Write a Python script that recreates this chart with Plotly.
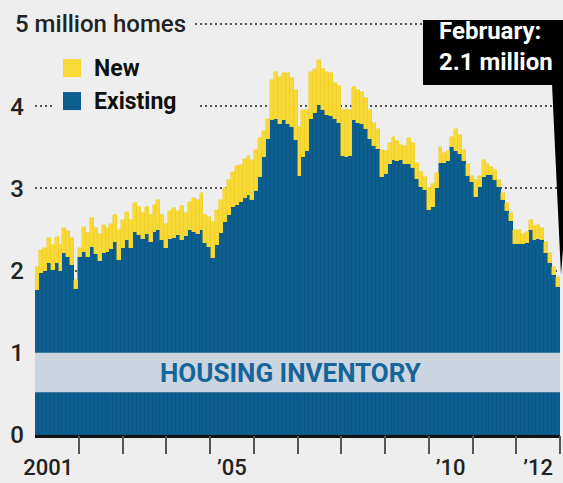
import plotly.graph_objects as go

# Monthly data, Jan 2001 - Feb 2012 (millions of homes)
months = [f"{y}-{m:02d}" for y in range(2001, 2013) for m in range(1, 13)][:134]

existing = [1.76, 1.97, 1.99, 2.09, 2.01, 2.09, 1.99, 2.21, 2.17, 2.07, 1.78, 2.17,
            2.23, 2.17, 2.29, 2.20, 2.12, 2.22, 2.23, 2.26, 2.35, 2.13, 2.28, 2.37,
            2.28, 2.47, 2.43, 2.39, 2.45, 2.35, 2.47, 2.50, 2.37, 2.27, 2.39, 2.40,
            2.43, 2.37, 2.42, 2.49, 2.47, 2.45, 2.50, 2.34, 2.29, 2.15, 2.31, 2.46,
            2.59, 2.68, 2.78, 2.80, 2.83, 2.88, 2.92, 2.86, 2.97, 3.14, 3.38, 3.60,
            3.83, 3.85, 3.78, 3.83, 3.79, 3.75, 3.59, 3.15, 3.38, 3.45, 3.85, 3.92,
            4.02, 3.95, 3.90, 3.88, 3.85, 3.80, 3.40, 3.38, 3.40, 3.83, 3.80, 3.78,
            3.72, 3.60, 3.52, 3.48, 3.14, 3.18, 3.30, 3.35, 3.33, 3.35, 3.30, 3.30,
            3.25, 3.12, 3.02, 2.98, 2.74, 2.78, 3.00, 3.31, 3.31, 3.33, 3.50, 3.45,
            3.42, 3.33, 3.15, 3.08, 2.90, 3.02, 3.14, 3.16, 3.16, 3.10, 3.02, 2.86,
            2.72, 2.60, 2.33, 2.33, 2.32, 2.34, 2.49, 2.37, 2.38, 2.37, 2.22, 2.09,
            1.95, 1.80]

new = [0.28, 0.28, 0.28, 0.31, 0.30, 0.32, 0.32, 0.31, 0.31, 0.33, 0.11, 0.10,
       0.30, 0.29, 0.35, 0.32, 0.33, 0.33, 0.29, 0.31, 0.33, 0.37, 0.34, 0.34,
       0.34, 0.35, 0.34, 0.31, 0.33, 0.33, 0.33, 0.36, 0.31, 0.30, 0.34, 0.36,
       0.30, 0.42, 0.28, 0.35, 0.41, 0.41, 0.44, 0.34, 0.36, 0.44, 0.43, 0.40,
       0.41, 0.42, 0.42, 0.47, 0.45, 0.48, 0.48, 0.49, 0.50, 0.48, 0.32, 0.25,
       0.49, 0.57, 0.58, 0.57, 0.61, 0.60, 0.61, 0.60, 0.57, 0.50, 0.57, 0.53,
       0.54, 0.50, 0.52, 0.52, 0.43, 0.45, 0.55, 0.59, 0.55, 0.40, 0.40, 0.39,
       0.38, 0.35, 0.28, 0.24, 0.33, 0.27, 0.25, 0.28, 0.25, 0.18, 0.22, 0.32,
       0.30, 0.19, 0.18, 0.16, 0.26, 0.27, 0.19, 0.19, 0.12, 0.12, 0.13, 0.27,
       0.23, 0.14, 0.15, 0.07, 0.20, 0.13, 0.21, 0.14, 0.10, 0.12, 0.08, 0.09,
       0.10, 0.10, 0.16, 0.16, 0.13, 0.13, 0.13, 0.17, 0.18, 0.15, 0.13, 0.13,
       0.10, 0.12]

y_ticks = [0, 1, 2, 3, 4, 5]
y_ticktext = ["0", "1", "2", "3", "4", ""]
year_ticks = list(range(2002, 2014))
year_label_pos = [2001.3, 2005.5, 2010.5, 2012.5]
year_labels = ["2001", "\u201905", "\u201910", "\u201912"]

BLUE = "#0C5E8E"
YELLOW = "#F9D935"
BG = "#EEEEEE"
FONT = "Roboto"

fig = go.Figure()
fig.add_bar(x=months, y=existing, name="Existing",
            marker=dict(color=BLUE, line=dict(color="#0A5482", width=0.5)))
fig.add_bar(x=months, y=new, name="New",
            marker=dict(color=YELLOW, line=dict(color="#EDCD28", width=0.5)))
fig.add_scatter(x=[2001, 2013], y=[0, 0], xaxis="x2", mode="markers",
                marker=dict(opacity=0), hoverinfo="skip", showlegend=False)

fig.update_layout(
    width=563, height=483,
    margin=dict(l=35, r=3, t=20, b=48),
    paper_bgcolor=BG, plot_bgcolor=BG,
    barmode="stack", bargap=0, showlegend=False,
    font=dict(family=FONT, color="#222"),
    xaxis=dict(type="category", range=[-0.5, 133.5], showticklabels=False,
               ticks="", showgrid=False, zeroline=False, automargin=False,
               showline=True, linecolor="#111", linewidth=2.5),
    xaxis2=dict(overlaying="x", anchor="y", side="bottom", automargin=False,
                range=[2001, 2013], tickmode="array",
                tickvals=year_label_pos, ticktext=year_labels,
                ticks="outside", ticklen=13, tickcolor="rgba(0,0,0,0)",
                tickfont=dict(family=FONT, size=22, color="#222", weight=500),
                showgrid=False, zeroline=False, showline=False,
                minor=dict(tickmode="array", tickvals=year_ticks, ticks="outside",
                           ticklen=18, tickcolor="#555", tickwidth=1.5, showgrid=False)),
    yaxis=dict(range=[0, 5.05], tickmode="array", tickvals=y_ticks, ticktext=y_ticktext,
               tickfont=dict(family=FONT, size=24, color="#222", weight=500),
               ticks="", ticklabelstandoff=10, automargin=False,
               showgrid=True, gridcolor="#555", gridwidth=1.5, griddash="2px,3px",
               zeroline=False, showline=False),
)

shapes = [
    # housing inventory band
    dict(type="rect", xref="paper", yref="y", x0=0, x1=1, y0=0.52, y1=1.0,
         fillcolor="#CAD5DF", line=dict(width=0), layer="above"),
    # legend mask over grid line
    dict(type="rect", xref="paper", yref="y", x0=0.038, x1=0.3105, y0=3.88, y1=4.12,
         fillcolor=BG, line=dict(width=0), layer="above"),
    # legend swatches
    dict(type="rect", xref="paper", yref="y", x0=0.0533, x1=0.0876, y0=4.355, y1=4.574,
         fillcolor=YELLOW, line=dict(width=0), layer="above"),
    dict(type="rect", xref="paper", yref="y", x0=0.0533, x1=0.0876, y0=3.954, y1=4.173,
         fillcolor=BLUE, line=dict(width=0), layer="above"),
    # callout box
    dict(type="rect", xref="paper", yref="y", x0=0.739, x1=1.03, y0=4.258, y1=5.207,
         fillcolor="black", line=dict(width=0), layer="above"),
    dict(type="path", xref="paper", yref="paper",
         path="M 0.9848 0.8452 L 1.03 0.8452 L 1.0019 0.3855 Z",
         fillcolor="black", line=dict(width=0), layer="above"),
]
fig.update_layout(shapes=shapes)

annotations = [
    dict(text="5 million homes", xref="paper", yref="y", x=-0.0514, y=5,
         xanchor="left", yanchor="middle", showarrow=False, bgcolor=BG, borderpad=6,
         font=dict(family=FONT, size=24, color="#222", weight=500)),
    dict(text="<b>New</b>", xref="paper", yref="y", x=0.1086, y=4.465,
         xanchor="left", yanchor="middle", showarrow=False,
         font=dict(family=FONT, size=23, color="#111")),
    dict(text="<b>Existing</b>", xref="paper", yref="y", x=0.1086, y=4.063,
         xanchor="left", yanchor="middle", showarrow=False,
         font=dict(family=FONT, size=23, color="#111")),
    dict(text="<b>HOUSING INVENTORY</b>", xref="paper", yref="y", x=0.4876, y=0.76,
         xanchor="center", yanchor="middle", showarrow=False,
         font=dict(family=FONT, size=26, color="#15649A")),
    dict(text="<b>February:<br>2.1 million</b>", xref="paper", yref="y",
         x=0.7657, y=4.732, xanchor="left", yanchor="middle", align="left",
         showarrow=False, font=dict(family=FONT, size=24, color="white")),
]
fig.update_layout(annotations=annotations)

fig.write_html("out.html", config={"displayModeBar": False},
               post_script="document.body.style.margin='0';document.body.style.overflow='hidden';")
